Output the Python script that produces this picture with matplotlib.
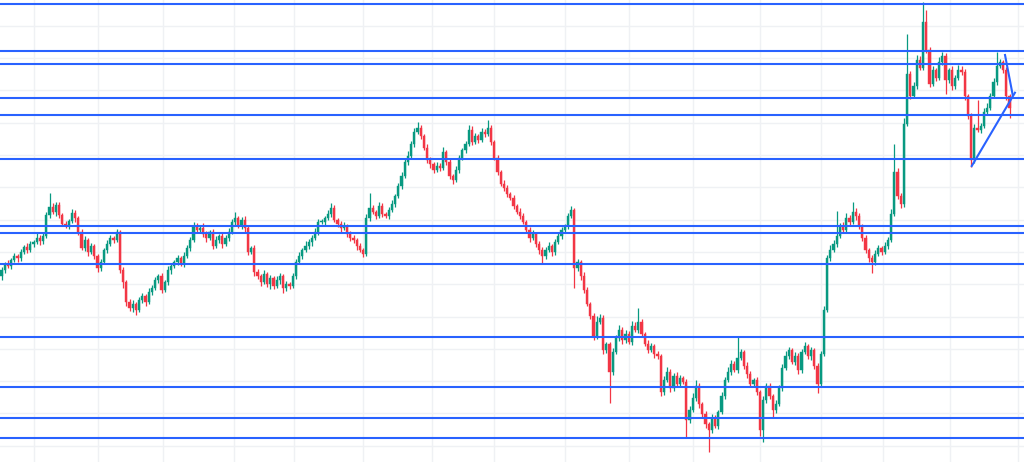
import matplotlib.pyplot as plt
import numpy as np

# closing prices, one per candle (open = previous close)
first_open = 186
closes = [
    192, 198, 196, 202, 206, 204, 210, 215, 212, 218,
    220, 224, 221, 226, 247, 255, 250, 257, 247, 238,
    236, 241, 249, 244, 230, 214, 222, 210, 216, 206,
    194, 200, 212, 218, 224, 222, 230, 192, 180, 160,
    154, 158, 152, 162, 166, 160, 170, 174, 182, 186,
    172, 180, 192, 196, 200, 204, 198, 206, 214, 222,
    236, 232, 234, 228, 224, 230, 216, 222, 226, 218,
    224, 230, 240, 244, 236, 242, 234, 210, 214, 190,
    186, 180, 188, 178, 184, 176, 182, 186, 174, 178,
    176, 186, 200, 206, 212, 216, 220, 224, 230, 240,
    240, 244, 248, 254, 242, 238, 234, 236, 228, 224,
    222, 216, 212, 208, 244, 254, 250, 246, 256, 248,
    246, 252, 258, 266, 276, 286, 300, 306, 318, 330,
    334, 326, 314, 302, 298, 292, 296, 294, 310, 300,
    286, 282, 292, 304, 312, 318, 332, 320, 326, 322,
    330, 328, 334, 320, 304, 290, 278, 274, 268, 264,
    256, 250, 246, 240, 232, 224, 228, 218, 212, 206,
    212, 216, 210, 220, 226, 232, 236, 246, 252, 194,
    200, 186, 172, 158, 146, 126, 140, 144, 112, 118,
    90, 110, 124, 132, 122, 128, 120, 136, 132, 140,
    128, 118, 112, 116, 108, 106, 70, 82, 90, 74,
    86, 78, 84, 80, 42, 52, 64, 76, 58, 48,
    38, 32, 44, 36, 50, 66, 82, 90, 98, 92,
    104, 110, 96, 88, 78, 82, 70, 32, 62, 76,
    66, 52, 58, 74, 94, 106, 112, 100, 106, 92,
    110, 116, 106, 112, 96, 78, 108, 152, 204, 212,
    218, 226, 236, 232, 244, 240, 250, 246, 236, 224,
    212, 204, 200, 208, 214, 210, 216, 222, 248, 290,
    266, 258, 338, 388, 366, 376, 402, 394, 440, 412,
    378, 392, 384, 400, 406, 382, 392, 376, 384, 392,
    390, 366, 346, 302, 334, 332, 336, 350, 354, 366,
    380, 396, 400, 392, 366, 354,
]

# wick lengths above / below the body
upper_wick = [
    3, 2, 4, 2, 3, 2, 3, 2, 4, 3,
    2, 5, 3, 4, 3, 14, 4, 3, 3, 2,
    3, 2, 4, 3, 2, 3, 4, 2, 3, 2,
    2, 3, 2, 4, 3, 2, 3, 2, 3, 2,
    3, 4, 2, 3, 3, 2, 4, 3, 3, 2,
    3, 2, 4, 3, 2, 3, 2, 4, 3, 3,
    4, 3, 2, 5, 3, 2, 3, 4, 2, 3,
    3, 4, 3, 6, 2, 3, 4, 3, 2, 3,
    3, 2, 4, 2, 3, 2, 4, 3, 2, 3,
    2, 3, 3, 4, 2, 5, 3, 3, 4, 3,
    3, 2, 4, 5, 3, 2, 3, 4, 2, 3,
    3, 2, 3, 2, 4, 15, 3, 2, 4, 3,
    2, 3, 4, 2, 3, 4, 3, 5, 3, 4,
    6, 3, 2, 4, 3, 2, 4, 3, 5, 2,
    3, 2, 4, 3, 2, 3, 5, 4, 3, 2,
    4, 3, 8, 3, 2, 3, 2, 4, 3, 2,
    3, 2, 4, 3, 2, 3, 4, 2, 3, 3,
    3, 4, 2, 3, 4, 3, 2, 3, 4, 2,
    3, 2, 4, 3, 2, 3, 6, 4, 3, 2,
    2, 4, 3, 5, 3, 4, 3, 5, 4, 14,
    3, 2, 4, 3, 2, 3, 2, 4, 5, 3,
    3, 4, 3, 2, 3, 4, 5, 6, 3, 2,
    3, 2, 4, 3, 2, 4, 3, 5, 4, 3,
    21, 3, 2, 4, 3, 2, 3, 2, 4, 3,
    3, 2, 4, 3, 4, 5, 3, 2, 4, 3,
    3, 4, 2, 3, 2, 3, 3, 4, 3, 5,
    4, 25, 3, 4, 5, 3, 10, 4, 3, 2,
    3, 2, 3, 4, 3, 2, 4, 3, 5, 28,
    4, 3, 6, 40, 3, 4, 5, 4, 20, 12,
    3, 4, 2, 5, 4, 3, 2, 4, 3, 5,
    4, 3, 2, 3, 4, 28, 3, 4, 5, 3,
    4, 14, 3, 2, 3, 2,
]
lower_wick = [
    4, 3, 2, 3, 2, 4, 3, 2, 3, 2,
    3, 2, 4, 3, 2, 3, 2, 4, 3, 2,
    2, 3, 2, 4, 3, 2, 3, 4, 2, 3,
    4, 3, 2, 3, 2, 3, 2, 3, 6, 4,
    3, 4, 5, 2, 3, 4, 2, 3, 2, 3,
    3, 2, 3, 4, 2, 3, 2, 3, 2, 3,
    2, 3, 2, 3, 4, 2, 3, 2, 3, 4,
    2, 3, 2, 3, 2, 3, 4, 3, 2, 4,
    3, 4, 2, 3, 5, 3, 2, 4, 5, 3,
    3, 2, 3, 2, 3, 2, 3, 4, 2, 3,
    2, 3, 2, 3, 2, 3, 4, 2, 3, 3,
    3, 4, 2, 3, 2, 3, 2, 3, 2, 3,
    2, 3, 2, 3, 2, 3, 2, 3, 2, 3,
    2, 3, 2, 3, 4, 3, 2, 3, 2, 3,
    3, 4, 2, 3, 2, 3, 2, 3, 2, 3,
    2, 3, 2, 3, 2, 3, 2, 3, 3, 2,
    3, 2, 3, 2, 3, 4, 2, 3, 4, 7,
    3, 2, 4, 3, 2, 3, 2, 3, 2, 20,
    3, 4, 3, 2, 3, 4, 3, 2, 4, 3,
    31, 3, 2, 3, 4, 3, 2, 3, 2, 3,
    3, 2, 3, 2, 4, 3, 4, 3, 2, 4,
    3, 2, 3, 2, 18, 3, 2, 3, 4, 3,
    4, 22, 3, 2, 3, 2, 3, 2, 3, 2,
    3, 2, 3, 4, 3, 2, 3, 6, 12, 3,
    3, 7, 3, 2, 3, 2, 3, 2, 3, 4,
    3, 2, 3, 4, 3, 9, 3, 2, 2, 3,
    2, 3, 2, 3, 2, 3, 2, 4, 3, 3,
    3, 4, 11, 3, 2, 3, 2, 3, 2, 2,
    3, 4, 3, 2, 3, 2, 3, 2, 2, 3,
    3, 2, 3, 2, 3, 14, 3, 4, 3, 2,
    3, 4, 3, 7, 3, 2, 3, 2, 3, 2,
    2, 3, 2, 3, 4, 10,
]

# horizontal support / resistance levels
levels = [458, 411.5, 398, 364.5, 347.5, 303.5, 236.5, 229.5, 198, 125.5, 75, 44, 24]

# trend lines drawn on the chart: (bar, price) -> (bar, price)
trend_lines = [((303.2, 296), (316.7, 369.3)),
               ((313.6, 407), (316.0, 367))]

# vertical grid (time ticks, in bar index)
time_ticks = [10, 30, 50.5, 72.5, 91.5, 113, 134.5, 154, 176, 196, 216, 237, 256, 275.5, 296.5, 317.5]

closes = np.array(closes, dtype=float)
opens = np.concatenate([[first_open], closes[:-1]])
highs = np.maximum(opens, closes) + np.array(upper_wick)
lows = np.minimum(opens, closes) - np.array(lower_wick)
bars = np.arange(len(closes))

up = closes >= opens
colors = np.where(up, '#089981', '#f23645')

fig = plt.figure(figsize=(10.24, 4.62), dpi=100)
ax = fig.add_axes([0, 0, 1, 1])

ax.vlines(bars, lows, highs, colors=colors, linewidth=0.9, zorder=2)
body = np.maximum(np.abs(closes - opens), 1.0)
ax.bar(bars, body, bottom=np.minimum(opens, closes), width=0.72,
       color=colors, edgecolor=colors, linewidth=0.3, zorder=3)

for lvl in levels:
    ax.axhline(lvl, color='#2962ff', linewidth=1.5, zorder=4)
for (x0, y0), (x1, y1) in trend_lines:
    ax.plot([x0, x1], [y0, y1], color='#2962ff', linewidth=1.5, zorder=4)

ax.set_xlim(-0.47, 319.53)
ax.set_ylim(0, 462)
ax.set_xticks(time_ticks)
ax.set_yticks(np.arange(16.3, 462, 32.3))
ax.grid(True, color='#eff1f4', linewidth=1.0, zorder=0)
ax.tick_params(length=0, labelbottom=False, labelleft=False)
for s in ax.spines.values():
    s.set_visible(False)

fig.savefig('out.png', dpi=100, facecolor='white')
